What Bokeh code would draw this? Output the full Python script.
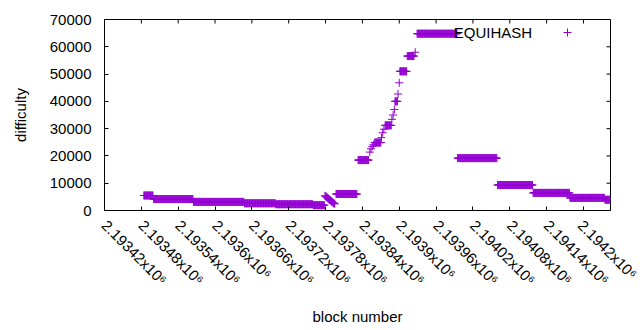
import math
from bokeh.plotting import figure
from bokeh.models import (Range1d, FixedTicker, Label, Legend,
                          LegendItem, ColumnDataSource)
from bokeh.embed import file_html
from bokeh.resources import INLINE

# Runs of constant difficulty (first block, last block, difficulty)
run_start = [2193484, 2193500, 2193565, 2193648, 2193699, 2193760,
             2193797, 2193833, 2193860, 2193877, 2193893, 2193901,
             2193913, 2193929, 2193995, 2194060, 2194118, 2194178, 2194235]
run_end = [2193499, 2193564, 2193647, 2193698, 2193759, 2193778,
           2193831, 2193850, 2193870, 2193887, 2193897, 2193912,
           2193924, 2193994, 2194059, 2194117, 2194177, 2194234, 2194243]
run_difficulty = [5500, 4200, 3150, 2650, 2300, 1950,
                  6050, 18480, 24900, 31200, 40000, 51000,
                  56600, 64800, 19200, 9350, 6450, 4630, 3950]

# Individual blocks where difficulty changed block by block
ramp_block = [2193779, 2193780, 2193781, 2193782, 2193783, 2193784,
              2193785, 2193786, 2193787, 2193788, 2193789, 2193790,
              2193791, 2193792, 2193793, 2193794, 2193795,
              2193852, 2193854, 2193856, 2193858, 2193871, 2193873,
              2193875, 2193888, 2193890, 2193892, 2193898, 2193900, 2193926]
ramp_difficulty = [5400, 5250, 5050, 4850, 4650, 4450,
                   4250, 4050, 3850, 3650, 3450, 3250,
                   3050, 2850, 2700, 2550, 2450,
                   21400, 22600, 23500, 24100, 26700, 28500,
                   29800, 33400, 35000, 37000, 42700, 46800, 58000]

x_tick_values = [2193420, 2193480, 2193540, 2193600, 2193660, 2193720, 2193780,
                 2193840, 2193900, 2193960, 2194020, 2194080, 2194140, 2194200]
x_tick_labels = ["2.19342x10⁶", "2.19348x10⁶", "2.19354x10⁶", "2.1936x10⁶",
                 "2.19366x10⁶", "2.19372x10⁶", "2.19378x10⁶", "2.19384x10⁶",
                 "2.1939x10⁶", "2.19396x10⁶", "2.19402x10⁶", "2.19408x10⁶",
                 "2.19414x10⁶", "2.1942x10⁶"]
y_tick_values = [0, 10000, 20000, 30000, 40000, 50000, 60000, 70000]
x_min, x_max = 2193420, 2194244
y_min, y_max = 0, 70000
series_name = "EQUIHASH"

blocks, diffs = [], []
for s, e, d in zip(run_start, run_end, run_difficulty):
    for b in range(s, e + 1):
        blocks.append(b)
        diffs.append(d)
blocks += ramp_block
diffs += ramp_difficulty
src = ColumnDataSource(dict(block=blocks, difficulty=diffs))

FONT = "Liberation Sans"
FS = "15px"
COLOR = "#9400D3"

p = figure(width=640, height=328, output_backend="svg", toolbar_location=None,
           x_range=Range1d(x_min, x_max), y_range=Range1d(y_min, y_max),
           min_border_left=104, min_border_right=30, min_border_top=19,
           min_border_bottom=117)
p.xgrid.visible = False
p.ygrid.visible = False
p.outline_line_color = "black"
p.outline_line_width = 1

r = p.scatter("block", "difficulty", source=src, marker="cross", size=8,
              line_color=COLOR, line_width=1)

# mirrored inward ticks on the top and right borders
p.ray(x=x_tick_values, y=[y_max] * len(x_tick_values), length=4,
      length_units="screen", angle=-math.pi / 2, line_color="black", line_width=1)
p.ray(x=[x_max] * len(y_tick_values), y=y_tick_values, length=4,
      length_units="screen", angle=math.pi, line_color="black", line_width=1)

def style(ax):
    ax.axis_line_color = "black"
    ax.major_tick_in = 4
    ax.major_tick_out = 0
    ax.minor_tick_line_color = None
    ax.major_tick_line_color = "black"
    ax.major_label_text_font = FONT
    ax.major_label_text_font_size = FS
    ax.major_label_text_color = "black"
    ax.axis_label_text_font = FONT
    ax.axis_label_text_font_size = FS
    ax.axis_label_text_font_style = "normal"
    ax.axis_label_text_color = "black"

xa = p.xaxis[0]
style(xa)
xa.ticker = FixedTicker(ticks=x_tick_values)
xa.major_label_overrides = dict(zip(x_tick_values, x_tick_labels))
xa.major_label_orientation = -math.pi / 4
xa.major_label_standoff = 12
xa.axis_label = "block number"
xa.axis_label_standoff = 11

ya = p.yaxis[0]
style(ya)
ya.ticker = FixedTicker(ticks=y_tick_values)
ya.major_label_standoff = 13
ya.axis_label = "difficulty"
ya.axis_label_standoff = 18

# gnuplot-style key: title text on the left, sample marker on the right
p.add_layout(Label(x=427.7, y=178.3, x_units="screen", y_units="screen",
                   text=series_name, text_align="right", text_baseline="middle",
                   text_font=FONT, text_font_size=FS, text_color="black"))
legend = Legend(items=[LegendItem(label=" ", renderers=[r])],
                location=(452.7, 168.3), padding=0, margin=0, spacing=0,
                glyph_width=20, glyph_height=20, label_standoff=0,
                label_width=0, label_height=20, label_text_font=FONT,
                label_text_font_size=FS,
                border_line_color=None, background_fill_alpha=0)
p.add_layout(legend)

open("out.html", "w").write(file_html(p, INLINE))
